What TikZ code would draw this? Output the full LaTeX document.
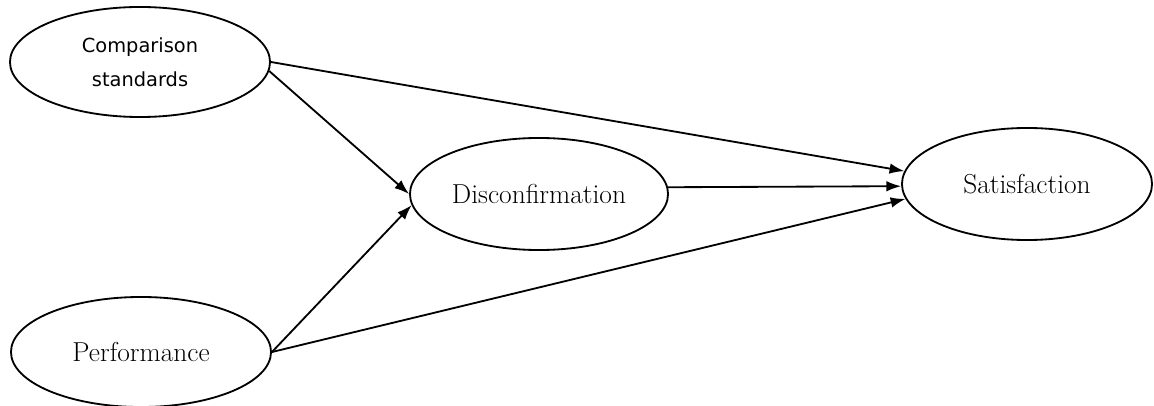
\documentclass[tikz,border=0pt]{standalone}
\usepackage{fontspec}
\newfontfamily\cmpfont{DejaVu Sans}
\usepackage{tikz}
\usetikzlibrary{shapes.geometric,arrows.meta}

\begin{document}
\begin{tikzpicture}[
  x=0.025cm, y=-0.025cm,
  >={Latex[length=10.5pt,width=7.5pt]},
  every label/.style={font=\fontsize{19.5}{23}\selectfont},
  construct/.style={draw, ellipse, line width=1.3pt, inner sep=0pt, minimum width=6.5cm, minimum height=2.75cm},
  link/.style={->, line width=1.3pt}
]
\useasboundingbox (0,0) rectangle (1154,406);

\node[construct, label={[align=center, font=\cmpfont\fontsize{13.8}{24}\selectfont]center:Comparison\\standards}] (cmp) at (140,62) {};
\node[construct, label=center:Performance] (perf) at (141,352) {};
\node[construct, minimum width=6.45cm, minimum height=2.8cm, label=center:Disconfirmation] (dis) at (539,194) {};
\node[construct, minimum width=6.25cm, minimum height=2.8cm, label=center:Satisfaction] (sat) at (1027,184) {};

\draw[link] (cmp.east) -- (sat.174);
\draw[link] (cmp.-4) -- (dis.180);
\draw[link] (perf.east) -- (dis.185);
\draw[link] (perf.east) -- (sat.187);
\draw[link] (dis.3) -- (sat.181);
\end{tikzpicture}
\end{document}
